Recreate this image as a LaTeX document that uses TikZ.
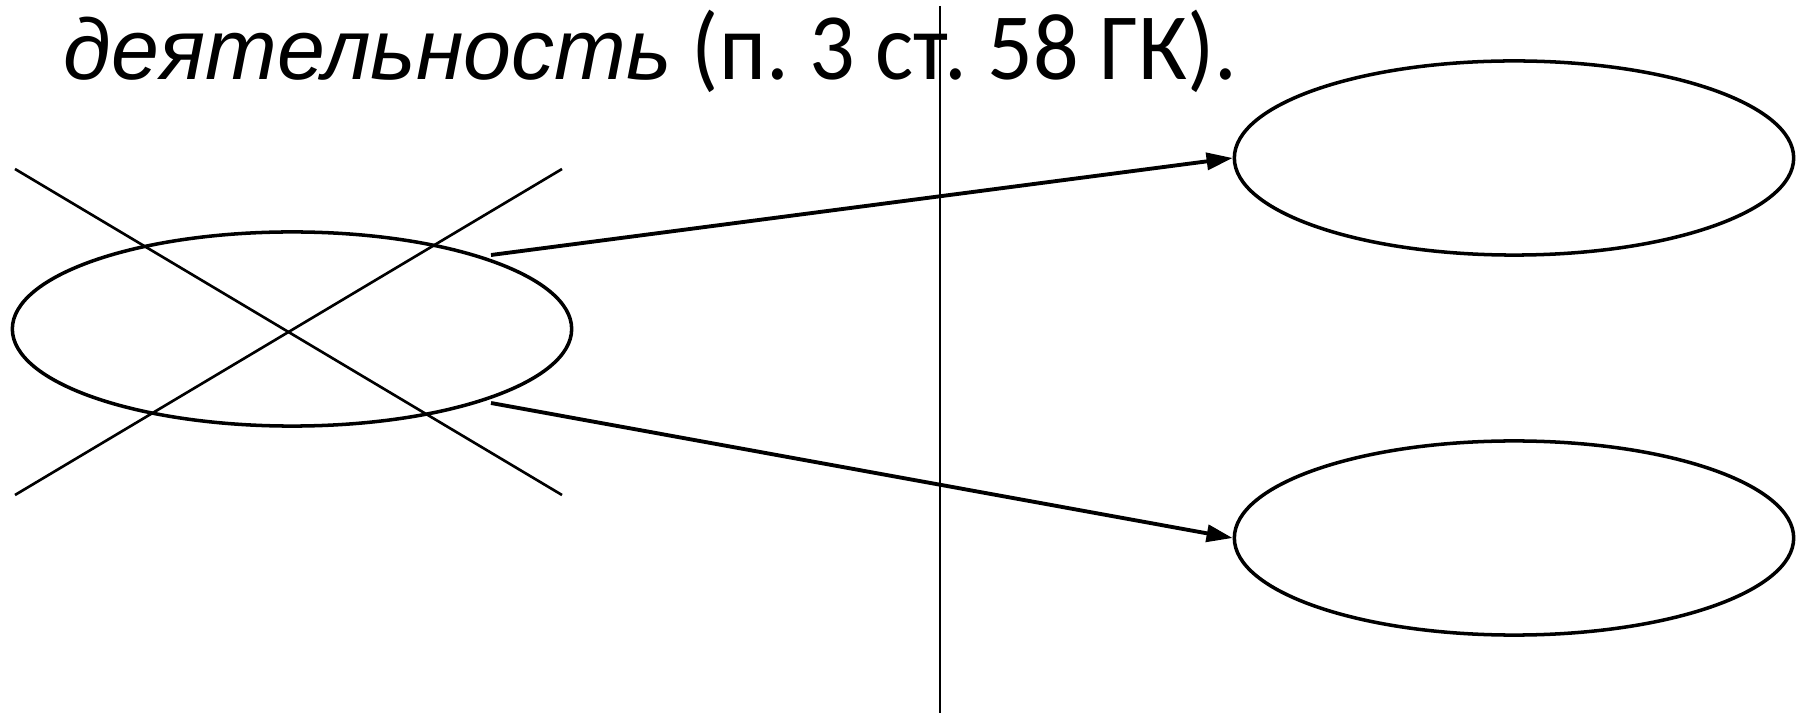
\documentclass[tikz,border=0pt]{standalone}
\usepackage{fontspec}
\setmainfont{Carlito}[FakeStretch=0.95]
\newfontfamily\itfont{Liberation Sans}
\usetikzlibrary{arrows.meta, shapes.geometric, positioning}

\begin{document}
\begin{tikzpicture}[
  x=0.01cm, y=-0.01cm,
  every node/.style={font=\fontsize{27}{32}\selectfont},
  oval/.style={ellipse, draw, line width=1pt, inner sep=0pt,
               minimum width=5.59cm, minimum height=1.94cm},
  arr/.style={-{Triangle[length=0.26cm, width=0.17cm]}, line width=1.1pt},
  strike/.style={line width=0.75pt},
]
\useasboundingbox (0,0) rectangle (1807,713);

\node[anchor=base west, inner sep=0pt] (title) at (63,80)
  {{\itfont\itshape\fontsize{24.5}{30}\selectfont деятельность} (п.~3 ст.~58 ГК).};

\node[oval] (old)   at (292,329)  {};
\node[oval] (upper) at (1514,158) {};
\node[oval] (lower) at (1514,538) {};

% crossed out oval
\coordinate (xtl) at (15,169);
\coordinate (xbr) at (562,495);
\coordinate (xbl) at (15,495);
\coordinate (xtr) at (562,169);
\draw[strike] (xtl) -- (xbr);
\draw[strike] (xbl) -- (xtr);

% divider
\coordinate (divtop) at (940,6);
\coordinate (divbot) at (940,713);
\draw[strike] (divtop) -- (divbot);

\coordinate (fromup)   at (491,255);
\coordinate (fromdown) at (491,403);
\draw[arr] (fromup)   -- (upper.west);
\draw[arr] (fromdown) -- (lower.west);
\end{tikzpicture}
\end{document}
